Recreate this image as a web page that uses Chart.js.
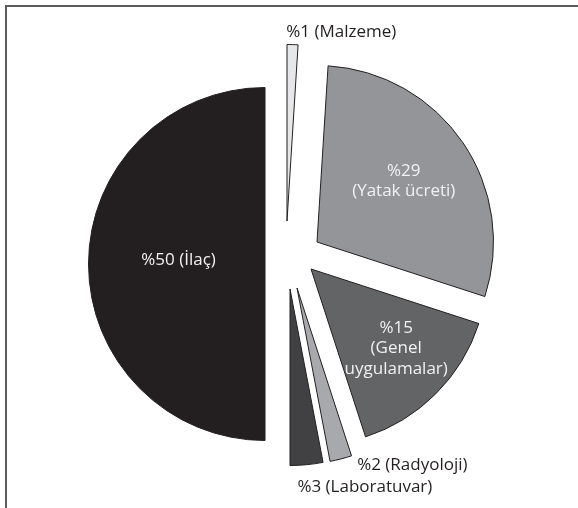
<!DOCTYPE html>
<html>
<head>
<meta charset="utf-8">
<script src="https://cdn.jsdelivr.net/npm/chart.js@4.4.1/dist/chart.umd.min.js"></script>
<style>
  html, body { margin: 0; padding: 0; background: #fff; }
  #wrap { position: relative; width: 578px; height: 508px; overflow: hidden; }
  #frame {
    position: absolute; left: 5px; top: 5px; right: -10px; bottom: -10px;
    border-top: 2px solid #5a5b5d; border-left: 2px solid #5a5b5d;
  }
  canvas { position: absolute; left: 0; top: 0; }
</style>
</head>
<body>
<div id="wrap">
  <div id="frame"></div>
  <canvas id="pieChart" width="578" height="508"></canvas>
</div>
<script>
// Slices, clockwise from 12 o'clock
const categories = ['Malzeme', 'Yatak ücreti', 'Genel uygulamalar', 'Radyoloji', 'Laboratuvar', 'İlaç'];
const percents = [1, 29, 15, 2, 3, 50];
const labelLines = [
  ['%1 (Malzeme)'],
  ['%29', '(Yatak ücreti)'],
  ['%15', '(Genel', 'uygulamalar)'],
  ['%2 (Radyoloji)'],
  ['%3 (Laboratuvar)'],
  ['%50 (İlaç)']
];

// Look of each slice
const fills = ['#e6e7e8', '#939598', '#636466', '#a7a9ac', '#414042', '#231f20'];
// how far each slice is pulled away from the centre (px, x / y)
const explode = [[1, -43], [31, -22], [25, 5], [11, 24], [4, 25], [-21, 0]];
// label spot: angle (deg clockwise from top) and distance (x radius) from the slice tip
const labelPos = [[16, 1.115], [55, 0.6], [133, 0.66], [147, 1.2], [159.3, 1.2], [272.5, 0.49]];
const labelInside = [false, true, true, false, false, true];

const explodedPie = {
  id: 'explodedPie',
  beforeDatasetsDraw(chart) {
    const ctx = chart.ctx;
    chart.getDatasetMeta(0).data.forEach((arc, i) => {
      ctx.save();
      ctx.translate(explode[i][0], explode[i][1]);
      arc.draw(ctx);
      ctx.restore();
    });
    return false;
  },
  afterDraw(chart) {
    const ctx = chart.ctx;
    ctx.save();
    ctx.font = '17px "Open Sans"';
    ctx.textAlign = 'center';
    ctx.textBaseline = 'middle';
    chart.getDatasetMeta(0).data.forEach((arc, i) => {
      const { x, y, outerRadius } = arc.getProps(['x', 'y', 'outerRadius'], true);
      const a = labelPos[i][0] * Math.PI / 180;
      const d = labelPos[i][1] * outerRadius;
      const px = x + explode[i][0] + Math.sin(a) * d;
      const py = y + explode[i][1] - Math.cos(a) * d;
      const lines = labelLines[i];
      const lh = 20.5;
      ctx.fillStyle = labelInside[i] ? '#f1f1f2' : '#231f20';
      lines.forEach((t, k) => {
        ctx.fillText(t, px, py + (k - (lines.length - 1) / 2) * lh);
      });
    });
    ctx.restore();
  }
};

new Chart(document.getElementById('pieChart'), {
  type: 'pie',
  data: {
    labels: categories,
    datasets: [{
      data: percents,
      backgroundColor: fills,
      borderColor: '#231f20',
      borderWidth: 1,
      hoverBorderWidth: 1,
      hoverOffset: 0
    }]
  },
  options: {
    responsive: false,
    animation: false,
    events: [],
    layout: { padding: { top: 87, bottom: 67, left: 109, right: 115 } },
    plugins: {
      legend: { display: false },
      tooltip: { enabled: false }
    }
  },
  plugins: [explodedPie]
});
</script>
</body>
</html>
